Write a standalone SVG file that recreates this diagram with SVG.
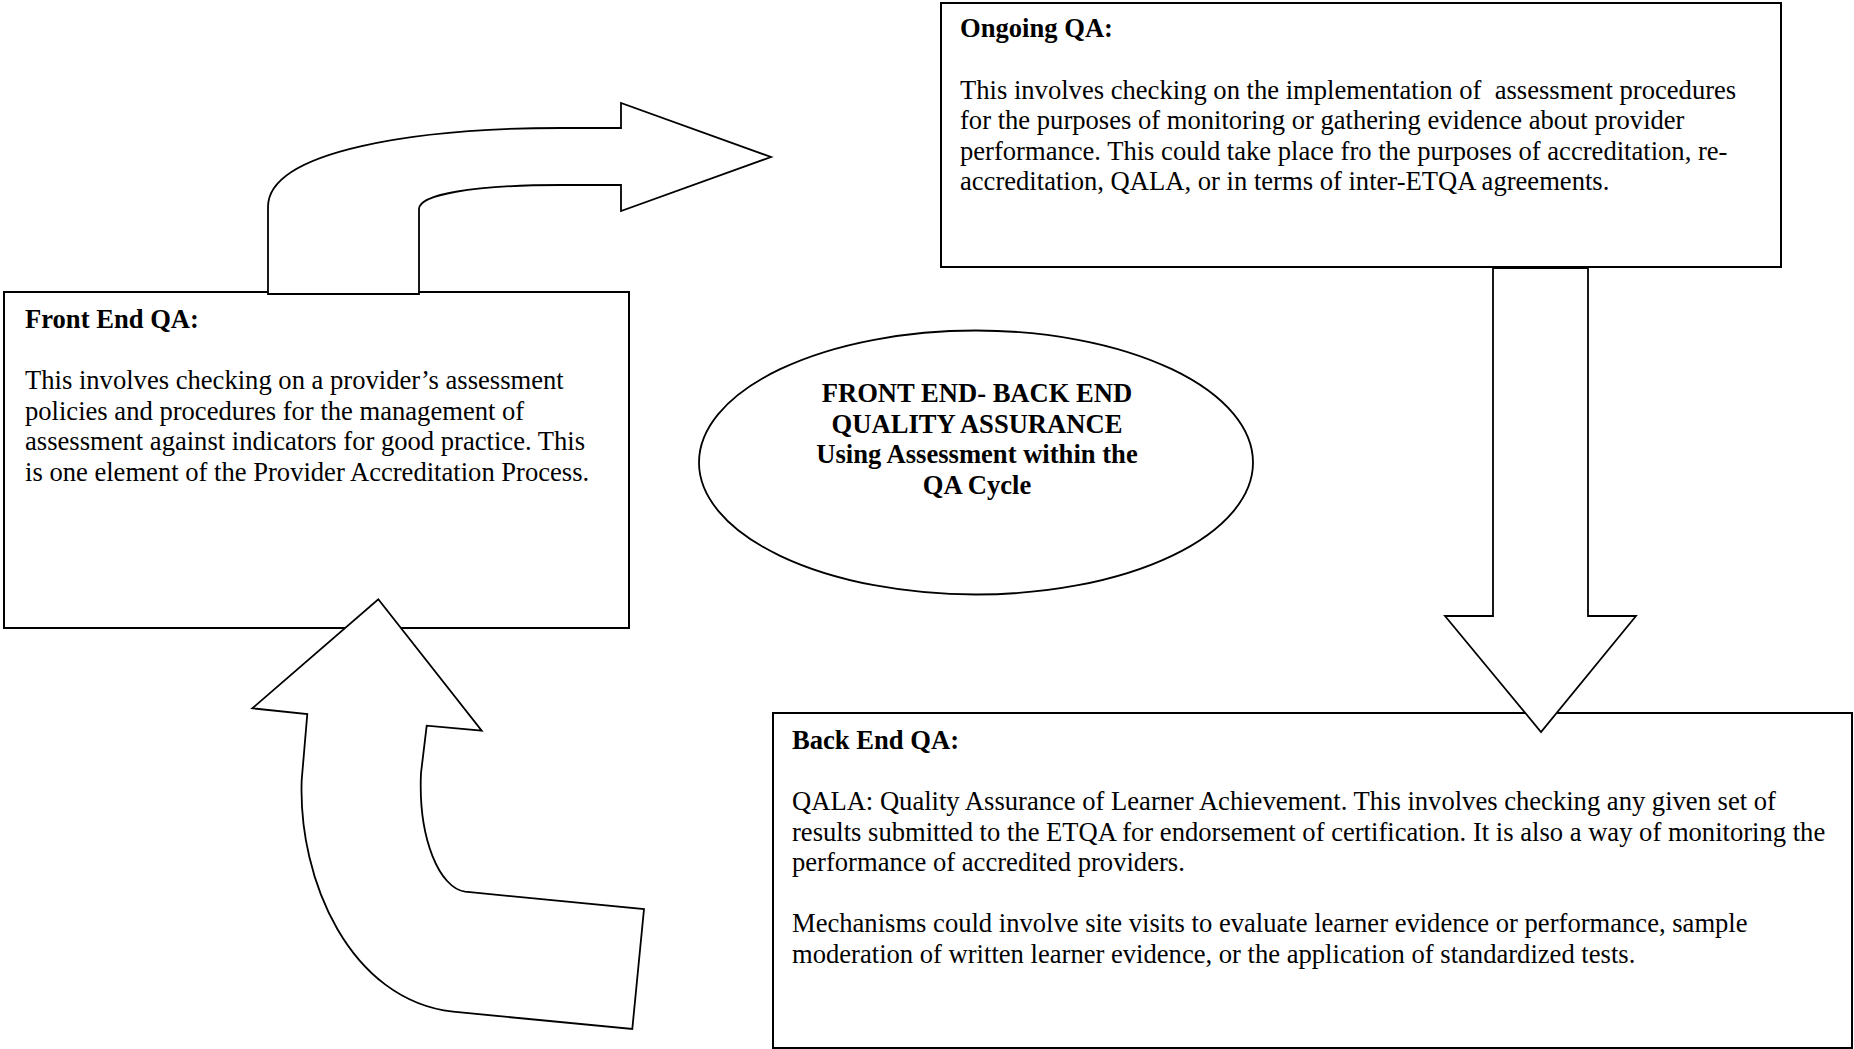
<svg xmlns="http://www.w3.org/2000/svg" width="1854" height="1049" viewBox="0 0 1854 1049">
<style>
.box{fill:#fff;stroke:#000;stroke-width:2}
.arrow{fill:#fff;stroke:#000;stroke-width:1.8;stroke-linejoin:miter}
.t{font-family:"Liberation Serif","Times New Roman",serif;font-size:26.6px;fill:#000;white-space:pre}
.b{font-weight:bold}
.c{text-anchor:middle}
</style>
<rect width="1854" height="1049" fill="#fff"/>
<g id="front-end">
<rect class="box" x="4" y="292" width="625" height="336"/>
<text class="t b" x="25" y="328">Front End QA:</text>
<text class="t" x="25" y="389">This involves checking on a provider’s assessment</text>
<text class="t" x="25" y="419.5">policies and procedures for the management of</text>
<text class="t" x="25" y="450">assessment against indicators for good practice. This</text>
<text class="t" x="25" y="480.5">is one element of the Provider Accreditation Process.</text>
</g>
<g id="ongoing">
<rect class="box" x="941" y="3" width="840" height="264"/>
<text class="t b" x="960" y="37">Ongoing QA:</text>
<text class="t" x="960" y="98.5">This involves checking on the implementation of  assessment procedures</text>
<text class="t" x="960" y="129">for the purposes of monitoring or gathering evidence about provider</text>
<text class="t" x="960" y="159.5">performance. This could take place fro the purposes of accreditation, re-</text>
<text class="t" x="960" y="190">accreditation, QALA, or in terms of inter-ETQA agreements.</text>
</g>
<g id="back-end">
<rect class="box" x="773" y="713" width="1079" height="335"/>
<text class="t b" x="792" y="749">Back End QA:</text>
<text class="t" x="792" y="810">QALA: Quality Assurance of Learner Achievement. This involves checking any given set of</text>
<text class="t" x="792" y="840.5">results submitted to the ETQA for endorsement of certification. It is also a way of monitoring the</text>
<text class="t" x="792" y="871">performance of accredited providers.</text>
<text class="t" x="792" y="932">Mechanisms could involve site visits to evaluate learner evidence or performance, sample</text>
<text class="t" x="792" y="962.5">moderation of written learner evidence, or the application of standardized tests.</text>
</g>
<g id="center">
<ellipse cx="976" cy="462.5" rx="277" ry="132" fill="#fff" stroke="#000" stroke-width="1.8"/>
<text class="t b c" x="977" y="402">FRONT END- BACK END</text>
<text class="t b c" x="977" y="432.5">QUALITY ASSURANCE</text>
<text class="t b c" x="977" y="463">Using Assessment within the</text>
<text class="t b c" x="977" y="493.5">QA Cycle</text>
</g>
<g id="connectors">
<path class="arrow" d="M268,294 L268,207 C268,150 420,128 561,128 L621,128 L621,103 L771,157 L621,211 L621,185 L561,185 C470,185 419,195 419,209 L419,294 Z"/>
<path class="arrow" d="M1493,268 L1588,268 L1588,616 L1636,616 L1541,732 L1445,616 L1493,616 Z"/>
<path class="arrow" d="M378.3,599.3 L481.7,730.7 L426.7,725.7 L421,773 C418,840 440,888 465,891.7 L644,909 L632.3,1029 L453,1011.7 C350,1000 298,880 301.7,780 L307.3,714 L252.3,708.3 Z"/>
</g>
</svg>
